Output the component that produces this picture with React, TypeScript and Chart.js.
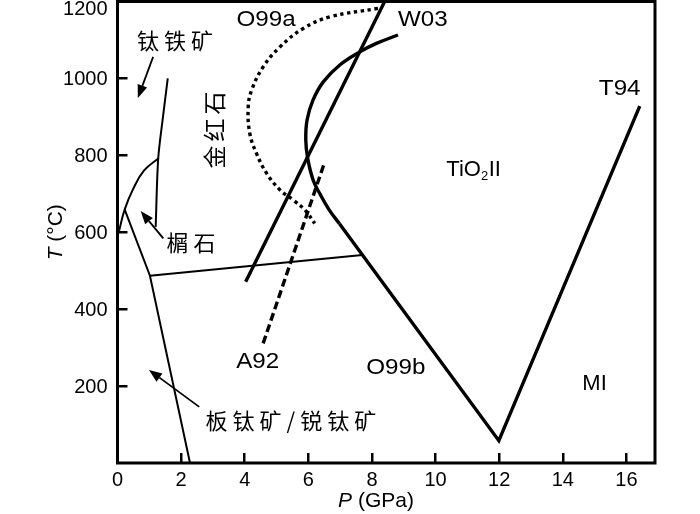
import React, { useEffect, useRef } from "react";
import { Chart, registerables } from "chart.js";

Chart.register(...registerables);

// ---- axis ticks ----
const pressureTicks = [0, 2, 4, 6, 8, 10, 12, 14, 16];
const temperatureTicks = [200, 400, 600, 800, 1000, 1200];

// ---- phase boundaries, points as [P (GPa), T (°C)] ----
const ilmeniteBoundary = [[1.58, 1000], [1.43, 900], [1.28, 792], [1.2, 614]];
const titaniteArc = [[0.05, 604], [0.23, 660], [0.49, 712], [0.83, 760], [1.28, 792]];
const anataseBoundary = [[0.23, 658], [1.02, 487], [2.28, 0]];
const rutileAnataseBoundary = [[1.02, 487], [7.7, 541]];
const w03Straight = [[4.03, 471], [8.4, 1200]];
const w03Curve = [
  [8.82, 1113], [8.14, 1091], [7.62, 1069], [6.99, 1035], [6.47, 991], [6.15, 944],
  [5.96, 892], [5.92, 840], [5.98, 792], [6.15, 736], [6.37, 699], [6.65, 659],
  [6.98, 622],
];
const o99bT94 = [[6.98, 622], [11.99, 58], [16.42, 928]];
const o99aDotted = [
  [8.19, 1182], [6.68, 1160], [5.84, 1130], [5.11, 1082], [4.58, 1030], [4.22, 970],
  [4.11, 926], [4.16, 857], [4.37, 805], [4.69, 753], [5.11, 710], [5.52, 684],
  [5.89, 658], [6.2, 623],
];
const a92Dashed = [[4.58, 311], [6.5, 779]];

// ---- annotations (positions in data coordinates) ----
const latinLabels: [string, number, number][] = [
  ["O99a", 4.67, 1152],
  ["W03", 9.6, 1152],
  ["T94", 15.79, 972],
  ["A92", 4.41, 263],
  ["O99b", 8.75, 247],
];
const plainLabels: [string, number, number][] = [["MI", 15.0, 205]];
const cjkLabels: [string, number, number][] = [
  ["钛铁矿", 1.81, 1097],
  ["榍石", 2.31, 572],
  ["板钛矿/锐钛矿", 5.45, 109],
];
const verticalLabel: [string, number, number] = ["金红石", 3.03, 866];
const tio2Label: [number, number] = [10.34, 767];
// arrows: [tailP, tailT, tipP, tipT]
const arrows: [number, number, number, number][] = [
  [1.12, 1056, 0.64, 949],
  [1.44, 584, 0.73, 655],
  [2.57, 146, 0.99, 242],
];

const LATIN = '"Liberation Sans", Arial, sans-serif';
const CJK = '"Noto Sans CJK SC", sans-serif';

const toXY = (pts: number[][]) => pts.map(([x, y]) => ({ x, y }));

function drawSpaced(ctx: CanvasRenderingContext2D, text: string, cx: number, cy: number, spacing: number) {
  const chars = Array.from(text);
  const widths = chars.map((c) => ctx.measureText(c).width);
  const total = widths.reduce((a, b) => a + b, 0) + spacing * (chars.length - 1);
  let x = cx - total / 2;
  ctx.textAlign = "left";
  chars.forEach((c, i) => {
    ctx.fillText(c, x, cy);
    x += widths[i] + spacing;
  });
}

const overlayPlugin = {
  id: "overlay",
  afterDraw(chart: any) {
    const { ctx, chartArea: a, scales } = chart;
    const xs = scales.x;
    const ys = scales.y;
    ctx.save();
    ctx.fillStyle = "#000";
    ctx.strokeStyle = "#000";

    // frame
    ctx.lineWidth = 3;
    ctx.strokeRect(a.left, a.top, a.right - a.left, a.bottom - a.top);

    // tick labels
    ctx.font = `20px ${LATIN}`;
    ctx.textBaseline = "alphabetic";
    ctx.textAlign = "right";
    temperatureTicks.forEach((v) => {
      const py = ys.getPixelForValue(v);
      ctx.fillText(String(v), a.left - 10, Math.max(py + 7, 15));
    });
    ctx.textAlign = "center";
    pressureTicks.forEach((v) => {
      ctx.fillText(String(v), xs.getPixelForValue(v), a.bottom + 23);
    });

    // axis titles
    const drawMixed = (italic: string, rest: string, cx: number, cy: number) => {
      ctx.font = `italic 21px ${LATIN}`;
      const w1 = ctx.measureText(italic).width;
      ctx.font = `21px ${LATIN}`;
      const w2 = ctx.measureText(rest).width;
      const x0 = cx - (w1 + w2) / 2;
      ctx.textAlign = "left";
      ctx.font = `italic 21px ${LATIN}`;
      ctx.fillText(italic, x0, cy);
      ctx.font = `21px ${LATIN}`;
      ctx.fillText(rest, x0 + w1, cy);
    };
    drawMixed("P", " (GPa)", 376, 507);
    ctx.save();
    ctx.translate(62, (a.top + a.bottom) / 2);
    ctx.rotate(-Math.PI / 2);
    drawMixed("T", " (°C)", 0, 0);
    ctx.restore();

    // latin labels (slightly wide lettering)
    ctx.font = `22px ${LATIN}`;
    ctx.textAlign = "center";
    ctx.textBaseline = "middle";
    latinLabels.forEach(([t, p, T]) => {
      ctx.save();
      ctx.translate(xs.getPixelForValue(p), ys.getPixelForValue(T));
      ctx.scale(1.1, 1);
      ctx.fillText(t, 0, 0);
      ctx.restore();
    });
    plainLabels.forEach(([t, p, T]) => {
      ctx.fillText(t, xs.getPixelForValue(p), ys.getPixelForValue(T));
    });

    // TiO2 II
    {
      const px = xs.getPixelForValue(tio2Label[0]);
      const py = ys.getPixelForValue(tio2Label[1]);
      ctx.textAlign = "left";
      ctx.textBaseline = "alphabetic";
      ctx.font = `22px ${LATIN}`;
      const base = py + 8;
      ctx.fillText("TiO", px, base);
      let x = px + ctx.measureText("TiO").width;
      ctx.font = `13px ${LATIN}`;
      ctx.fillText("2", x, base + 4);
      x += ctx.measureText("2").width + 0.5;
      ctx.font = `22px ${LATIN}`;
      ctx.fillText("II", x, base);
    }

    // CJK labels
    ctx.font = `22px ${CJK}`;
    ctx.textBaseline = "middle";
    cjkLabels.forEach(([t, p, T]) => {
      drawSpaced(ctx, t, xs.getPixelForValue(p), ys.getPixelForValue(T), 5);
    });
    {
      const [t, p, T] = verticalLabel;
      ctx.save();
      ctx.translate(xs.getPixelForValue(p), ys.getPixelForValue(T));
      ctx.rotate(-Math.PI / 2);
      ctx.font = `23px ${CJK}`;
      drawSpaced(ctx, t, 0, 0, 4);
      ctx.restore();
    }

    // arrows
    arrows.forEach(([p0, t0, p1, t1]) => {
      const x0 = xs.getPixelForValue(p0);
      const y0 = ys.getPixelForValue(t0);
      const x1 = xs.getPixelForValue(p1);
      const y1 = ys.getPixelForValue(t1);
      const ang = Math.atan2(y1 - y0, x1 - x0);
      const hl = 13;
      const hw = 5;
      const bx = x1 - hl * Math.cos(ang);
      const by = y1 - hl * Math.sin(ang);
      ctx.lineWidth = 1.8;
      ctx.beginPath();
      ctx.moveTo(x0, y0);
      ctx.lineTo(bx, by);
      ctx.stroke();
      ctx.beginPath();
      ctx.moveTo(x1, y1);
      ctx.lineTo(bx + hw * Math.sin(ang), by - hw * Math.cos(ang));
      ctx.lineTo(bx - hw * Math.sin(ang), by + hw * Math.cos(ang));
      ctx.closePath();
      ctx.fill();
    });

    ctx.restore();
  },
};

export default function App() {
  const canvasRef = useRef<HTMLCanvasElement | null>(null);

  useEffect(() => {
    document.body.style.margin = "0";
    const canvas = canvasRef.current;
    if (!canvas) return;
    const line = (pts: number[][], width: number, extra: any = {}) => ({
      data: toXY(pts),
      borderColor: "#000",
      backgroundColor: "#000",
      borderWidth: width,
      pointRadius: 0,
      fill: false,
      tension: 0,
      ...extra,
    });
    const chart = new Chart(canvas, {
      type: "line",
      data: {
        datasets: [
          line(ilmeniteBoundary, 2, { tension: 0.3 }),
          line(titaniteArc, 2, { tension: 0.45 }),
          line(anataseBoundary, 2),
          line(rutileAnataseBoundary, 2),
          line(w03Straight, 3.4),
          line(w03Curve, 3.4, { tension: 0.4 }),
          line(o99bT94, 3.4),
          line(o99aDotted, 3.4, { tension: 0.4, borderDash: [3.4, 3.6] }),
          line(a92Dashed, 3.4, { borderDash: [8, 4] }),
        ] as any,
      },
      options: {
        animation: false,
        responsive: false,
        maintainAspectRatio: false,
        layout: { padding: { left: 0, right: 45, top: 1.5, bottom: 0 } },
        plugins: { legend: { display: false }, tooltip: { enabled: false } },
        scales: {
          x: {
            type: "linear",
            min: 0,
            max: 16.9,
            afterFit: (s: any) => {
              s.height = 51;
            },
            afterBuildTicks: (s: any) => {
              s.ticks = pressureTicks.map((v) => ({ value: v }));
            },
            ticks: { display: false },
            grid: { drawOnChartArea: false, drawTicks: true, tickLength: -10, lineWidth: 2.5, color: "#000" },
            border: { display: false },
          },
          y: {
            type: "linear",
            min: 0,
            max: 1200,
            afterFit: (s: any) => {
              s.width = 117.5;
            },
            afterBuildTicks: (s: any) => {
              s.ticks = temperatureTicks.map((v) => ({ value: v }));
            },
            ticks: { display: false },
            grid: { drawOnChartArea: false, drawTicks: true, tickLength: -10, lineWidth: 2.5, color: "#000" },
            border: { display: false },
          },
        },
      },
      plugins: [overlayPlugin],
    });
    return () => chart.destroy();
  }, []);

  return (
    <div style={{ width: 700, height: 514, background: "#fff" }}>
      <canvas ref={canvasRef} width={700} height={514} style={{ display: "block" }} />
    </div>
  );
}
